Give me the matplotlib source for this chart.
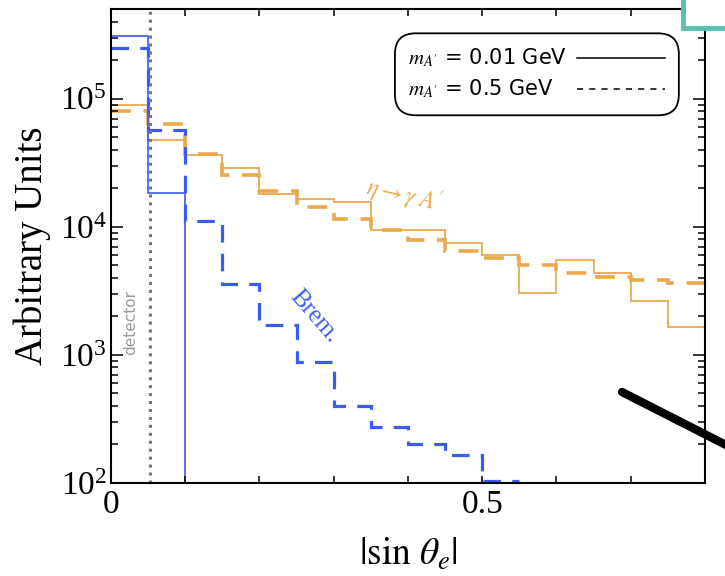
import numpy as np
import matplotlib
matplotlib.use("Agg")
import matplotlib.pyplot as plt
from matplotlib.lines import Line2D
from matplotlib.patches import Rectangle, FancyBboxPatch
from matplotlib.ticker import FixedLocator, FuncFormatter, LogLocator, NullFormatter

# Histogram binning in |sin theta_e|
bin_edges = np.round(np.arange(0.0, 0.8001, 0.05), 3)

# Bremsstrahlung, m_A' = 0.01 GeV (only the first two bins are populated)
brem_light = [3.1e5, 1.85e4]
# Bremsstrahlung, m_A' = 0.5 GeV
brem_heavy = [2.5e5, 5.7e4, 1.11e4, 3.58e3, 1.71e3, 885, 401, 275, 200, 165, 104]
# eta -> gamma A', m_A' = 0.01 GeV
eta_light = [8.9e4, 4.76e4, 3.61e4, 2.89e4, 1.79e4, 1.65e4, 1.57e4, 9.4e3,
             9.4e3, 7.43e3, 6.02e3, 3.03e3, 5.5e3, 4.34e3, 2.65e3, 1.66e3]
# eta -> gamma A', m_A' = 0.5 GeV
eta_heavy = [8.0e4, 6.3e4, 3.68e4, 2.54e4, 1.91e4, 1.44e4, 1.16e4, 9.5e3,
             7.9e3, 6.5e3, 5.68e3, 5.03e3, 4.34e3, 4.08e3, 3.84e3, 3.66e3]

detector_cut = 0.053
legend_labels = [r"$m_{A'}$ = 0.01 GeV", r"$m_{A'}$ = 0.5 GeV"]
x_tick_values = [0.0, 0.1, 0.2, 0.3, 0.4, 0.5, 0.6, 0.7, 0.8]
x_tick_labels = {0.0: "0", 0.5: "0.5"}

BLUE = "#3A5CF0"
ORANGE = "#EBA94C"

plt.rcParams["font.family"] = ["Liberation Serif", "DejaVu Serif"]
plt.rcParams["mathtext.fontset"] = "stix"

fig = plt.figure(figsize=(7.25, 5.76), dpi=100)
ax = fig.add_axes([0.1531, 0.1615, 0.8193, 0.8226])

dash = (0, (5.5, 3.5))
ax.stairs(eta_light, bin_edges, baseline=None, color=ORANGE, lw=1.3)
ax.stairs(eta_heavy, bin_edges, baseline=None, color=ORANGE, lw=2.6, linestyle=dash)
ax.stairs(brem_light, bin_edges[:len(brem_light) + 1], baseline=1.0, color=BLUE, lw=1.2)
ax.stairs(brem_heavy, bin_edges[:len(brem_heavy) + 1], baseline=None, color=BLUE,
          lw=2.3, linestyle=dash)

ax.axvline(detector_cut, color="#777777", lw=2.2, linestyle=(0, (1.0, 1.6)), zorder=1.5)

ax.set_yscale("log")
ax.set_xlim(0, 0.8)
ax.set_ylim(1e2, 5e5)

ax.xaxis.set_major_locator(FixedLocator(x_tick_values))
ax.xaxis.set_major_formatter(FuncFormatter(lambda v, p: x_tick_labels.get(round(v, 2), "")))
ax.yaxis.set_major_locator(LogLocator(base=10, numticks=10))
ax.yaxis.set_minor_locator(LogLocator(base=10, subs=np.arange(2, 10), numticks=20))
ax.yaxis.set_minor_formatter(NullFormatter())

ax.tick_params(axis="both", which="both", direction="in", top=True, right=True,
               labelsize=24, width=1.1, color="black")
ax.tick_params(axis="x", which="major", length=5.2, pad=5)
ax.tick_params(axis="y", which="major", length=8.8, pad=3)
ax.tick_params(axis="y", which="minor", length=5.0)
for s in ax.spines.values():
    s.set_linewidth(1.5)

ax.set_xlabel(r"$|\mathrm{sin}\ \theta_e|$", fontsize=27, labelpad=12)
ax.set_ylabel("Arbitrary Units", fontsize=28, labelpad=6)

ax.text(0.027, 1.8e3, "detector", rotation=90, ha="center", va="center",
        fontsize=11, color="#9a9a9a", family=["DejaVu Sans"])
ax.text(0.394, 1.75e4, r"$\eta\rightarrow\gamma\;A'$", rotation=-13, ha="center",
        va="center", fontsize=17, color=ORANGE)
ax.text(0.274, 2.0e3, "Brem.", rotation=-49, ha="center", va="center",
        fontsize=18, color=BLUE)

# Key for the two mass hypotheses: rounded box, labels left, line samples right
box = FancyBboxPatch((0.478, 0.776), 0.478, 0.173, transform=ax.transAxes,
                     boxstyle="round,pad=0,rounding_size=0.035", mutation_aspect=1.25,
                     facecolor="white", edgecolor="black", lw=1.3, zorder=5)
ax.add_patch(box)
key_rows_y = [0.897, 0.832]
key_styles = ["-", (0, (4, 4))]
for label, yk, style in zip(legend_labels, key_rows_y, key_styles):
    ax.text(0.5, yk, label, transform=ax.transAxes, ha="left", va="center",
            fontsize=15, family=["DejaVu Sans"], zorder=6)
    ax.add_line(Line2D([0.785, 0.933], [yk, yk], transform=ax.transAxes,
                       color="black", lw=1.1, linestyle=style, zorder=6))

# Overlapping slide elements around the plot
fig.add_artist(Rectangle((683 / 725, 1 - 28 / 576), 60 / 725, 40 / 576,
                         transform=fig.transFigure, facecolor="white",
                         edgecolor="#5CBFB2", lw=3.5, zorder=10, clip_on=False))
fig.add_artist(Line2D([622 / 725, 728 / 725], [1 - 392 / 576, 1 - 446 / 576],
                      transform=fig.transFigure, color="black", lw=6,
                      solid_capstyle="round", zorder=10))

fig.savefig("out.png", dpi=100)
